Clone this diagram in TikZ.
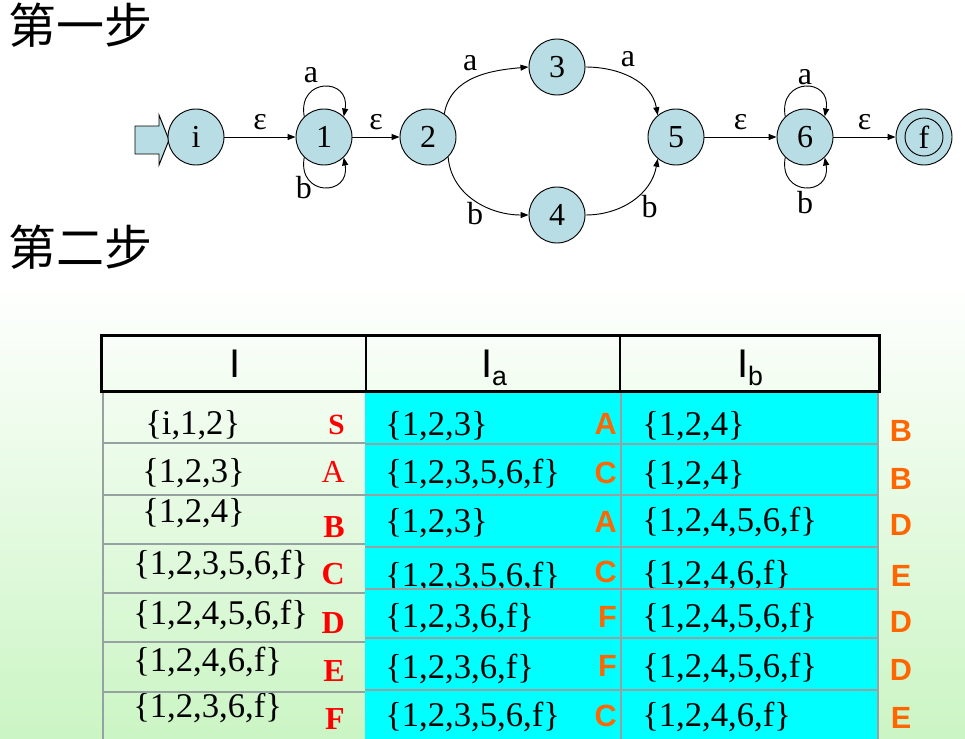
\documentclass[tikz,border=0pt]{standalone}
\usepackage{fontspec}
\setmainfont{Liberation Serif}
\newfontfamily\cjkfont{Noto Sans CJK SC}
\newfontfamily\arialfont{Liberation Sans}
\newcommand{\subtext}[1]{\raisebox{-6pt}{\arialfont\fontsize{20}{20}\selectfont #1}}
\usetikzlibrary{arrows.meta}
\definecolor{stateblue}{RGB}{185,221,228}
\definecolor{bggreen}{RGB}{203,245,196}
\definecolor{cellcyan}{RGB}{0,255,255}
\definecolor{markred}{RGB}{255,0,0}
\definecolor{markorange}{RGB}{255,102,0}
\definecolor{rulegray}{RGB}{150,162,162}

\begin{document}
\begin{tikzpicture}[
  x=0.75pt, y=0.75pt,
  >={Triangle[length=6pt,width=4.5pt]},
  edge/.style={->, line width=0.7pt},
  state/.style={circle, draw, line width=0.7pt, fill=stateblue, minimum size=42pt, inner sep=0pt, font=\fontsize{24}{24}\selectfont},
  lbl/.style={font=\fontsize{24}{24}\selectfont, inner sep=1pt},
  title/.style={font=\cjkfont\fontsize{36}{36}\selectfont, anchor=west, inner sep=0pt},
  set/.style={font=\fontsize{26}{26}\selectfont, inner sep=0pt, anchor=west},
  redmark/.style={font=\fontsize{24}{24}\selectfont\bfseries, text=markred, inner sep=0pt, anchor=east},
  orgmark/.style={font=\arialfont\bfseries\fontsize{23}{23}\selectfont, text=markorange, inner sep=0pt},
  head/.style={font=\arialfont\fontsize{30}{30}\selectfont, inner sep=0pt, anchor=base},
]
  % background
  \fill[white] (0,0) rectangle (965,-280);
  \shade[top color=white, bottom color=bggreen] (0,-280) rectangle (965,-739);
  \useasboundingbox (0,0) rectangle (965,-739);

  \node[title] (stepone) at (8,-25) {第一步};
  \node[title] (steptwo) at (8,-247) {第二步};

  % start arrow
  \draw[line width=0.7pt, fill=stateblue] (135,-126) -- (159,-126) -- (159,-115) -- (169,-140)
    -- (159,-165) -- (159,-154) -- (135,-154) -- cycle;

  % NFA
  \node[state] (si) at (196,-137) {i};
  \node[state] (s1) at (324,-137) {1};
  \node[state] (s2) at (428,-137) {2};
  \node[state] (s3) at (557,-67) {3};
  \node[state] (s4) at (557,-215) {4};
  \node[state] (s5) at (676,-137) {5};
  \node[state] (s6) at (805,-137) {6};
  \node[state] (sf) at (924,-137) {f};
  \draw[line width=0.7pt] (sf.center) circle[radius=14.25pt];

  \draw[edge] (si) -- node[lbl, above=4pt] {ε} (s1);
  \draw[edge] (s1) -- node[lbl, above=4pt] {ε} (s2);
  \draw[edge] (s5) -- node[lbl, above=4pt] {ε} (s6);
  \draw[edge] (s6) -- node[lbl, above=4pt] {ε} (sf);
  \draw[edge] (s1.134) .. controls +(100:40) and +(80:40) .. node[lbl, pos=0.4, above left=0pt, xshift=2pt, yshift=3pt] {a} (s1.46);
  \draw[edge] (s1.-134) .. controls +(-100:40) and +(-80:40) .. node[lbl, pos=0.3, left=-2pt, yshift=-4pt] {b} (s1.-46);
  \draw[edge] (s6.134) .. controls +(100:40) and +(80:40) .. node[lbl, above] {a} (s6.46);
  \draw[edge] (s6.-134) .. controls +(-100:40) and +(-80:40) .. node[lbl, below=2pt] {b} (s6.-46);
  \draw[edge] (s2.55) to[out=80, in=185] node[lbl, pos=0.45, above=5pt] {a} (s3.west);
  \draw[edge] (s3.east) to[out=0, in=100] node[lbl, pos=0.45, above=6pt] {a} (s5.130);
  \draw[edge] (s2.-45) to[out=-85, in=180] node[lbl, pos=0.5, below=0pt] {b} (s4.west);
  \draw[edge] (s4.east) to[out=0, in=-100] node[lbl, pos=0.6, below right=0pt] {b} (s5.-130);

  % table, first column
  \node[set] (r1set) at (145,-425) {\{i,1,2\}};
  \node[redmark, font=\fontsize{22}{22}\selectfont\bfseries] (r1mark) at (345,-425) {S};
  \node[set] (r2set) at (142,-473) {\{1,2,3\}};
  \node[redmark, font=\fontsize{24}{24}\selectfont\mdseries] (r2mark) at (345,-472) {A};
  \node[set] (r3set) at (142,-513) {\{1,2,4\}};
  \node[redmark] (r3mark) at (345,-527) {B};
  \node[set] (r4set) at (133,-565) {\{1,2,3,5,6,f\}};
  \node[redmark] (r4mark) at (345,-574) {C};
  \node[set] (r5set) at (133,-615) {\{1,2,4,5,6,f\}};
  \node[redmark] (r5mark) at (345,-623) {D};
  \node[set] (r6set) at (133,-662) {\{1,2,4,6,f\}};
  \node[redmark] (r6mark) at (345,-671) {E};
  \node[set] (r7set) at (133,-708) {\{1,2,3,6,f\}};
  \node[redmark] (r7mark) at (345,-719) {F};

  % table, I_a and I_b columns
  \fill[cellcyan] (365,-391) rectangle (878,-444);
  \node[set] (r1a) at (385,-426) {\{1,2,3\}};
  \node[orgmark, anchor=east] (r1amark) at (617,-424) {A};
  \node[set] (r1b) at (642,-426) {\{1,2,4\}};
  \node[orgmark] (r1bmark) at (901,-431) {B};

  \fill[cellcyan] (365,-444) rectangle (878,-495);
  \node[set] (r2a) at (385,-474) {\{1,2,3,5,6,f\}};
  \node[orgmark, anchor=east] (r2amark) at (617,-473) {C};
  \node[set] (r2b) at (642,-475) {\{1,2,4\}};
  \node[orgmark] (r2bmark) at (901,-479) {B};

  \fill[cellcyan] (365,-495) rectangle (878,-547);
  \node[set] (r3a) at (385,-523) {\{1,2,3\}};
  \node[orgmark, anchor=east] (r3amark) at (617,-522) {A};
  \node[set] (r3b) at (642,-522) {\{1,2,4,5,6,f\}};
  \node[orgmark] (r3bmark) at (901,-525) {D};

  \fill[cellcyan] (365,-547) rectangle (878,-589);
  \node[set] (r4a) at (385,-577) {\{1,2,3,5,6,f\}};
  \node[orgmark, anchor=east] (r4amark) at (617,-572) {C};
  \node[set] (r4b) at (642,-575) {\{1,2,4,6,f\}};
  \node[orgmark] (r4bmark) at (901,-576) {E};

  \fill[cellcyan] (365,-589) rectangle (878,-638);
  \node[set] (r5a) at (385,-618) {\{1,2,3,6,f\}};
  \node[orgmark, anchor=east] (r5amark) at (617,-617) {F};
  \node[set] (r5b) at (642,-618) {\{1,2,4,5,6,f\}};
  \node[orgmark] (r5bmark) at (901,-622) {D};

  \fill[cellcyan] (365,-638) rectangle (878,-690);
  \node[set] (r6a) at (385,-669) {\{1,2,3,6,f\}};
  \node[orgmark, anchor=east] (r6amark) at (617,-666) {F};
  \node[set] (r6b) at (642,-668) {\{1,2,4,5,6,f\}};
  \node[orgmark] (r6bmark) at (901,-670) {D};

  \fill[cellcyan] (365,-690) rectangle (878,-739);
  \node[set] (r7a) at (385,-717) {\{1,2,3,5,6,f\}};
  \node[orgmark, anchor=east] (r7amark) at (617,-716) {C};
  \node[set] (r7b) at (642,-717) {\{1,2,4,6,f\}};
  \node[orgmark] (r7bmark) at (901,-718) {E};

  % grid
  \draw[rulegray, line width=1.4pt] (103,-391) -- (103,-739);
  \foreach \y in {443,495,544,593,642,692}
    \draw[rulegray, line width=1pt] (103,-\y) -- (365,-\y);
  \foreach \y in {444,495,547,589,638,690}
    \draw[rulegray, line width=1pt] (365,-\y) -- (878,-\y);
  \draw[rulegray, line width=1pt] (621,-391) -- (621,-739);
  \draw[rulegray, line width=1pt] (878,-391) -- (878,-739);

  % header
  \draw[line width=0.8pt] (366,-335) -- (366,-391);
  \draw[line width=0.8pt] (620,-335) -- (620,-391);
  \draw[line width=2.25pt] (101,-335) rectangle (879,-391);
  \node[head] (hI) at (235,-377) {I};
  \node[head] (hIa) at (494,-377) {I\subtext{a}};
  \node[head] (hIb) at (750,-377) {I\subtext{b}};
\end{tikzpicture}
\end{document}
